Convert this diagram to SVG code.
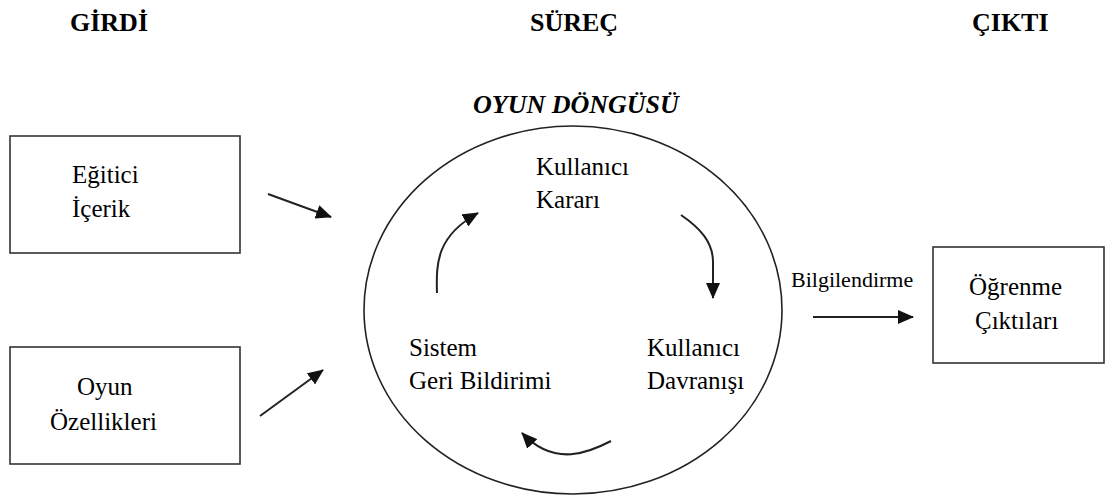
<svg xmlns="http://www.w3.org/2000/svg" width="1105" height="497" viewBox="0 0 1105 497">
<style>
.box{fill:#fff;stroke:#333;stroke-width:1.6}
text{font-family:'Liberation Serif',Tinos,'Times New Roman','Noto Serif','DejaVu Serif',serif;fill:#000}
.t{font-size:25px}
.h{font-size:26px;font-weight:bold}
.ln{fill:none;stroke:#222;stroke-width:2}
</style>
<defs>
<marker id="ah" viewBox="0 0 16 14" refX="15" refY="7" markerWidth="16" markerHeight="14" markerUnits="userSpaceOnUse" orient="auto">
<path d="M0,0 L16,7 L0,14 Z" fill="#111"/>
</marker>
</defs>
<rect width="1105" height="497" fill="#fff"/>
<g id="headers">
<text class="h" x="70" y="31">GİRDİ</text>
<text class="h" x="530" y="31">SÜREÇ</text>
<text class="h" x="972" y="31">ÇIKTI</text>
</g>
<g id="node-egitici">
<rect class="box" x="10" y="136" width="230" height="117"/>
<text class="t" x="72" y="183">Eğitici</text>
<text class="t" x="72" y="217">İçerik</text>
</g>
<g id="node-oyun">
<rect class="box" x="10" y="347" width="230" height="117"/>
<text class="t" x="77" y="395">Oyun</text>
<text class="t" x="50" y="430">Özellikleri</text>
</g>
<g id="node-dongu">
<text class="h" x="473" y="113" font-style="italic">OYUN DÖNGÜSÜ</text>
<ellipse cx="573" cy="310" rx="209" ry="184" fill="none" stroke="#222" stroke-width="1.6"/>
</g>
<g id="node-karar">
<text class="t" x="536" y="175">Kullanıcı</text>
<text class="t" x="536" y="208">Kararı</text>
</g>
<g id="node-davranis">
<text class="t" x="647" y="356">Kullanıcı</text>
<text class="t" x="647" y="389">Davranışı</text>
</g>
<g id="node-geribildirim">
<text class="t" x="409" y="356">Sistem</text>
<text class="t" x="409" y="389">Geri Bildirimi</text>
</g>
<g id="node-ogrenme">
<rect class="box" x="933" y="247" width="171" height="116"/>
<text class="t" x="969" y="295">Öğrenme</text>
<text class="t" x="975" y="329">Çıktıları</text>
</g>
<g id="connectors">
<line class="ln" x1="268" y1="194" x2="331" y2="217" marker-end="url(#ah)"/>
<line class="ln" x1="260" y1="416" x2="323" y2="370" marker-end="url(#ah)"/>
<line class="ln" x1="813" y1="317" x2="913" y2="317" marker-end="url(#ah)"/>
<text x="791" y="287" font-size="22">Bilgilendirme</text>
<path class="ln" d="M437,293 C436,262 437,236 478,213" marker-end="url(#ah)"/>
<path class="ln" d="M681,215 C700,228 713,242 713,262 L713,298" marker-end="url(#ah)"/>
<path class="ln" d="M611,441 C590,452 555,468 522,433" marker-end="url(#ah)"/>
</g>
</svg>
